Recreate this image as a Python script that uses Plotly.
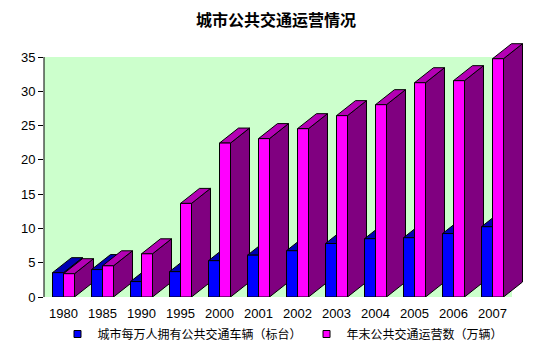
import plotly.graph_objects as go

years = ["1980", "1985", "1990", "1995", "2000", "2001", "2002", "2003",
         "2004", "2005", "2006", "2007"]
vehicles_per_10k = [3.55, 4.0, 2.25, 3.7, 5.3, 6.1, 6.75, 7.8, 8.5, 8.65, 9.25, 10.25]
year_end_vehicles = [3.4, 4.55, 6.3, 13.65, 22.45, 23.1, 24.55, 26.45, 28.05, 31.25, 31.55, 34.75]

series_names = ["城市每万人拥有公共交通车辆（标台）", "年末公共交通运营数（万辆）"]
front_colors = ["#0000FF", "#FF00FF"]
top_colors = ["#0000B4", "#B400B4"]
side_colors = ["#000080", "#800080"]

# geometry (category units / value units)
W = 0.282
DX = 0.487
PX_PER_UNIT = 240 / 35
DY = 15 / PX_PER_UNIT

FONT = "Liberation Sans, Noto Sans CJK SC, sans-serif"

fig = go.Figure()


def poly(xs, ys, color):
    fig.add_trace(go.Scatter(
        x=xs + [xs[0]], y=ys + [ys[0]], mode="lines", fill="toself",
        fillcolor=color, line=dict(color="black", width=1),
        hoverinfo="skip", showlegend=False))


for i in range(len(years)):
    for s, vals in enumerate([vehicles_per_10k, year_end_vehicles]):
        v = vals[i]
        L = i - W if s == 0 else i
        R = L + W
        # side face
        poly([R, R + DX, R + DX, R], [0, DY, v + DY, v], side_colors[s])
        # top face
        poly([L, R, R + DX, L + DX], [v, v, v + DY, v + DY], top_colors[s])
        # front face
        poly([L, R, R, L], [0, 0, v, v], front_colors[s])

for s in range(2):
    fig.add_trace(go.Scatter(
        x=[None], y=[None], mode="markers", name=series_names[s],
        marker=dict(symbol="square", size=7, color=front_colors[s],
                    line=dict(color="black", width=1)),
        showlegend=True))

ML, MR, MT, MB = 44, 21, 37, 61
plot_w = 553 - ML - MR
plot_h = 358 - MT - MB
x_lo = -0.5
x_hi = x_lo + plot_w / 39.0
y_hi = plot_h / PX_PER_UNIT

fig.add_shape(type="rect", xref="x", yref="y", x0=-0.5, x1=11.5, y0=0, y1=35,
              fillcolor="#CCFFCC", line=dict(width=0), layer="below")
fig.add_shape(type="line", xref="paper", yref="y", x0=0, x1=0, y0=0, y1=35,
              line=dict(color="black", width=1), layer="above")

fig.update_layout(
    width=553, height=358,
    margin=dict(l=ML, r=MR, t=MT, b=MB, autoexpand=False),
    paper_bgcolor="white", plot_bgcolor="white",
    font=dict(family=FONT, size=12, color="black"),
    title=dict(text="<b>城市公共交通运营情况</b>",
               font=dict(family="Noto Sans CJK SC", size=16, color="black"),
               x=276 / 553, xanchor="center", xref="container",
               y=1 - 20 / 358, yanchor="middle", yref="container"),
    legend=dict(orientation="h", xref="container", yref="container",
                x=283 / 553, xanchor="center", y=1 - 334 / 358, yanchor="middle",
                font=dict(family="Noto Sans CJK SC", size=12),
                itemwidth=30, tracegroupgap=0, bgcolor="rgba(0,0,0,0)"),
    xaxis=dict(range=[x_lo, x_hi], tickmode="array", automargin=False,
               tickvals=list(range(len(years))), ticktext=years,
               showgrid=False, zeroline=False, showline=False,
               ticks="outside", ticklen=4, tickcolor="rgba(0,0,0,0)",
               tickfont=dict(size=13)),
    yaxis=dict(range=[0, y_hi], tickmode="array", automargin=False,
               tickvals=[0, 5, 10, 15, 20, 25, 30, 35],
               showgrid=False, zeroline=False, showline=False,
               ticks="outside", ticklen=5, tickcolor="black",
               tickfont=dict(size=13)),
    showlegend=True,
)

fig.write_html("out.html",
               config={"displayModeBar": False, "staticPlot": True},
               post_script="document.body.style.margin='0';"
                           "document.body.style.overflow='hidden';")
